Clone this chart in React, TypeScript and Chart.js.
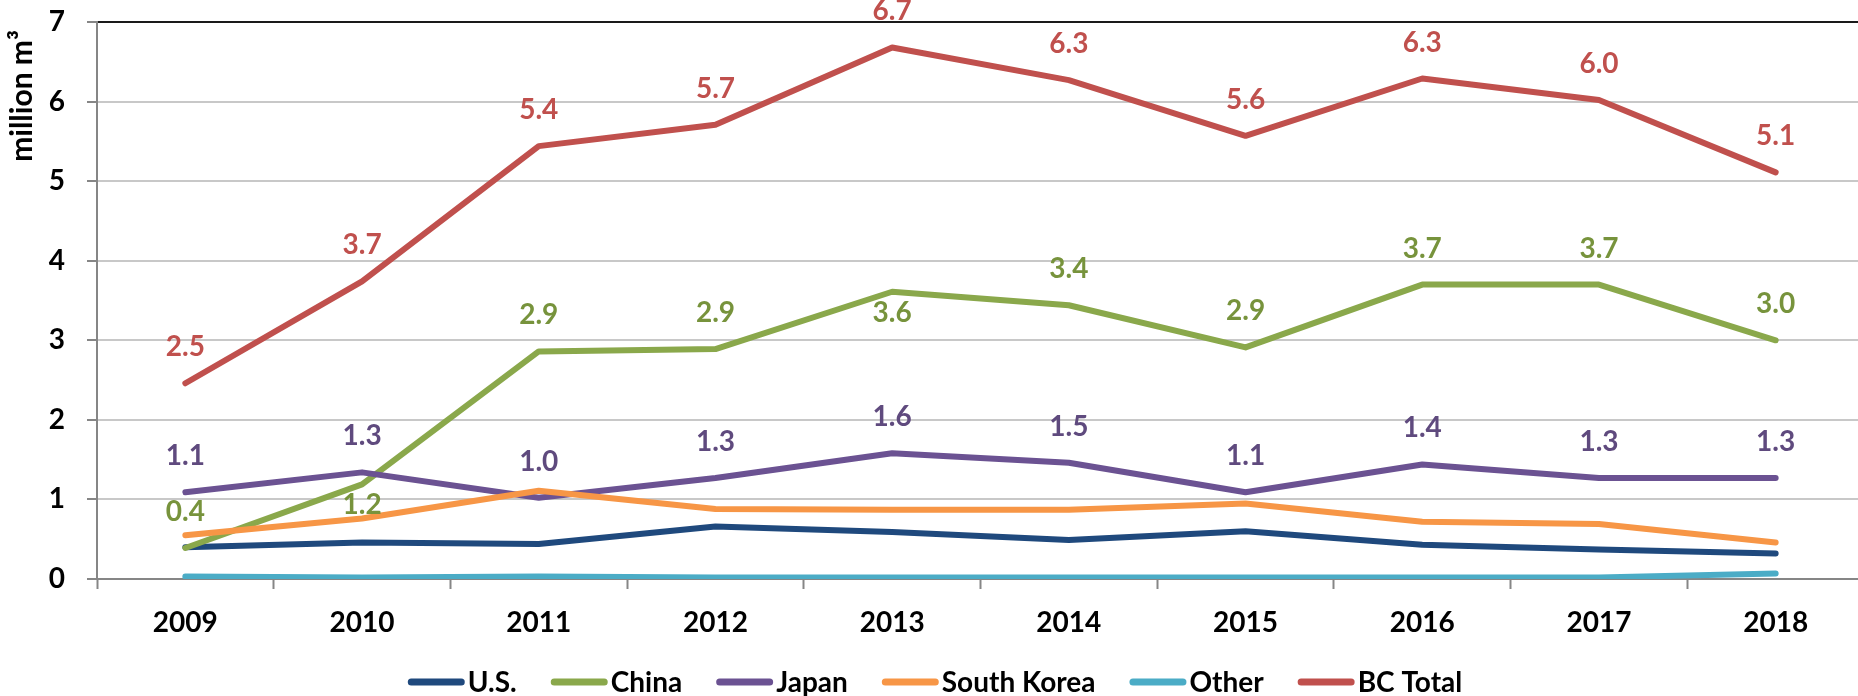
import React, { useEffect, useRef } from 'react';
import { Chart, registerables } from 'chart.js';

Chart.register(...registerables);

const years = ['2009', '2010', '2011', '2012', '2013', '2014', '2015', '2016', '2017', '2018'];
const usValues = [0.40, 0.46, 0.44, 0.66, 0.59, 0.49, 0.60, 0.43, 0.37, 0.32];
const chinaValues = [0.39, 1.19, 2.86, 2.89, 3.61, 3.44, 2.91, 3.70, 3.70, 3.00];
const japanValues = [1.09, 1.34, 1.02, 1.27, 1.58, 1.46, 1.09, 1.44, 1.27, 1.27];
const southKoreaValues = [0.55, 0.76, 1.11, 0.88, 0.87, 0.87, 0.95, 0.72, 0.69, 0.46];
const otherValues = [0.03, 0.02, 0.03, 0.02, 0.02, 0.02, 0.02, 0.02, 0.02, 0.07];
const bcTotalValues = [2.46, 3.74, 5.44, 5.71, 6.68, 6.27, 5.57, 6.29, 6.02, 5.11];
const yTickValues = [0, 1, 2, 3, 4, 5, 6, 7];
const yAxisTitle = 'million m³';

const seriesNames = ['U.S.', 'China', 'Japan', 'South Korea', 'Other', 'BC Total'];
const seriesColors = ['#1F497D', '#8AA84B', '#6B5292', '#F79646', '#4BACC6', '#C0504D'];
const labelColors = [null, '#77933C', '#5F4A7E', null, null, '#C0504D'];
const chinaLabelSide = ['above', 'below', 'above', 'above', 'below', 'above', 'above', 'above', 'above', 'above'];

const FONT = 'Lato, "Open Sans", sans-serif';

const dataLabelPlugin = {
  id: 'dataLabels',
  afterDatasetsDraw(chart: any) {
    const ctx = chart.ctx;
    ctx.save();
    ctx.font = `bold 28px ${FONT}`;
    ctx.textAlign = 'center';
    ctx.textBaseline = 'middle';
    chart.data.datasets.forEach((ds: any, i: number) => {
      const color = labelColors[i];
      if (!color) return;
      const meta = chart.getDatasetMeta(i);
      ctx.fillStyle = color;
      meta.data.forEach((pt: any, j: number) => {
        const side = ds.labelSides ? ds.labelSides[j] : 'above';
        const dy = side === 'below' ? 21 : -36;
        ctx.fillText(Number(ds.data[j]).toFixed(1), pt.x, pt.y + dy);
      });
    });
    ctx.restore();
  },
};

const axisTitlePlugin = {
  id: 'axisTitle',
  afterDraw(chart: any) {
    const ctx = chart.ctx;
    ctx.save();
    ctx.font = `bold 30px ${FONT}`;
    ctx.fillStyle = '#000';
    ctx.textAlign = 'right';
    ctx.textBaseline = 'middle';
    ctx.translate(22, chart.chartArea.top + 8);
    ctx.rotate(-Math.PI / 2);
    ctx.fillText(yAxisTitle, 0, 0);
    ctx.restore();
  },
};

const legendPlugin = {
  id: 'customLegend',
  afterDraw(chart: any) {
    const ctx = chart.ctx;
    ctx.save();
    ctx.font = `bold 28px ${FONT}`;
    ctx.textBaseline = 'middle';
    ctx.textAlign = 'left';
    const lineLen = 57;
    const gapLineText = 3;
    const gapItems = 34;
    const items = chart.data.datasets.map((ds: any) => ({
      label: ds.label,
      color: ds.borderColor,
      w: ctx.measureText(ds.label).width,
    }));
    const total = items.reduce((s: number, it: any) => s + lineLen + gapLineText + it.w, 0) + gapItems * (items.length - 1);
    let x = 935 - total / 2;
    const y = 682;
    items.forEach((it: any) => {
      ctx.strokeStyle = it.color;
      ctx.lineWidth = 7;
      ctx.lineCap = 'round';
      ctx.beginPath();
      ctx.moveTo(x + 3.5, y);
      ctx.lineTo(x + lineLen - 3.5, y);
      ctx.stroke();
      ctx.fillStyle = '#000';
      ctx.fillText(it.label, x + lineLen + gapLineText, y + 1);
      x += lineLen + gapLineText + it.w + gapItems;
    });
    ctx.restore();
  },
};

export default function App() {
  const canvasRef = useRef<HTMLCanvasElement | null>(null);

  useEffect(() => {
    if (!canvasRef.current) return;
    const valueSets = [usValues, chinaValues, japanValues, southKoreaValues, otherValues, bcTotalValues];
    const n = valueSets.length;
    const chart = new Chart(canvasRef.current, {
      type: 'line',
      data: {
        labels: years,
        datasets: valueSets.map((vals, i) => ({
          label: seriesNames[i],
          data: vals,
          borderColor: seriesColors[i],
          backgroundColor: seriesColors[i],
          borderWidth: 6,
          pointRadius: 0,
          pointHoverRadius: 0,
          tension: 0,
          borderCapStyle: 'round',
          borderJoinStyle: 'round',
          fill: false,
          order: n - 1 - i,
          labelSides: i === 1 ? chinaLabelSide : undefined,
        })) as any,
      },
      options: {
        animation: false,
        responsive: false,
        maintainAspectRatio: false,
        layout: { padding: { left: 0, top: 22, right: 2, bottom: 40 } },
        plugins: {
          legend: { display: false },
          tooltip: { enabled: false },
          title: { display: false },
        },
        scales: {
          x: {
            type: 'category',
            offset: true,
            grid: {
              offset: true,
              drawOnChartArea: false,
              drawTicks: true,
              tickLength: 10,
              tickColor: '#868686',
              tickWidth: 2,
            },
            border: { display: true, color: '#868686', width: 2 },
            ticks: {
              color: '#000',
              font: { family: FONT, size: 28, weight: 'bold' },
              padding: 17,
              maxRotation: 0,
              autoSkip: false,
            },
            afterFit: (scale: any) => {
              scale.height = 77;
            },
          },
          y: {
            min: 0,
            max: 7,
            afterBuildTicks: (scale: any) => {
              scale.ticks = yTickValues.map((v) => ({ value: v }));
            },
            grid: {
              color: (c: any) => (c.tick && c.tick.value === 7 ? '#1a1a1a' : '#C8C8C8'),
              lineWidth: 2,
              drawTicks: true,
              tickLength: 10,
              tickColor: '#868686',
              tickWidth: 2,
            },
            border: { display: true, color: '#868686', width: 2 },
            ticks: {
              color: '#000',
              font: { family: FONT, size: 28, weight: 'bold' },
              padding: 22,
            },
            title: { display: false },
            afterFit: (scale: any) => {
              scale.width = 97;
              scale.paddingTop = 0;
              scale.paddingBottom = 0;
            },
          },
        },
      } as any,
      plugins: [dataLabelPlugin, axisTitlePlugin, legendPlugin],
    });
    return () => chart.destroy();
  }, []);

  return (
    <div
      style={{
        position: 'fixed',
        left: 0,
        top: 0,
        width: '1858px',
        height: '696px',
        overflow: 'hidden',
        background: '#fff',
      }}
    >
      <canvas ref={canvasRef} width={1866} height={696} style={{ display: 'block', width: '1866px', height: '696px' }} />
    </div>
  );
}
